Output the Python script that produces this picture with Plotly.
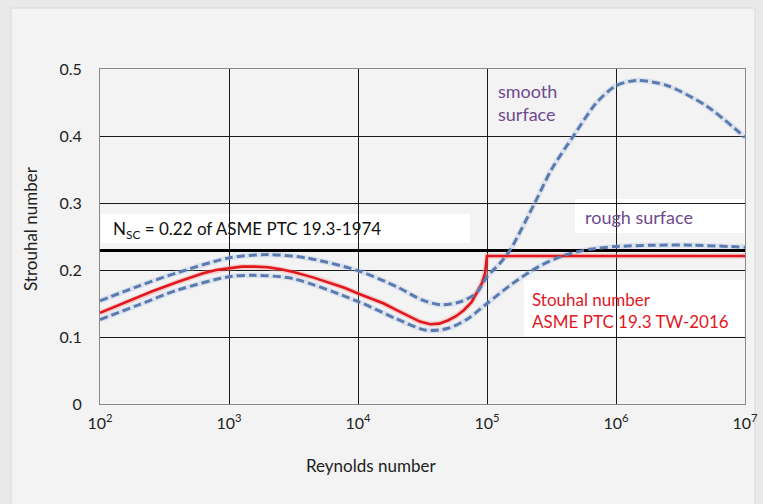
import plotly.graph_objects as go

# Reynolds number (log10) and Strouhal values
upper_logre = [2.0, 2.3, 2.6, 3.0, 3.3, 3.6, 4.0, 4.3, 4.5, 4.65, 4.8, 4.92, 5.0, 5.1, 5.18, 5.37, 5.5, 5.67, 5.85, 6.0, 6.16, 6.4, 6.7, 7.0]
upper_st = [0.154, 0.176, 0.196, 0.218, 0.223, 0.218, 0.199, 0.175, 0.155, 0.148, 0.153, 0.166, 0.19, 0.21, 0.23, 0.30, 0.35, 0.40, 0.45, 0.475, 0.483, 0.475, 0.445, 0.398]

lower_logre = [2.0, 2.3, 2.6, 3.0, 3.2, 3.5, 4.0, 4.3, 4.53, 4.7, 4.85, 5.0, 5.2, 5.4, 5.6, 5.8, 6.0, 6.3, 6.6, 7.0]
lower_st = [0.126, 0.148, 0.170, 0.190, 0.192, 0.187, 0.153, 0.127, 0.110, 0.113, 0.127, 0.150, 0.180, 0.205, 0.222, 0.231, 0.235, 0.237, 0.237, 0.234]

red_logre = [2.0, 2.2, 2.4, 2.6, 2.8, 2.9, 3.0, 3.1, 3.2, 3.3, 3.4, 3.5, 3.65, 3.8, 3.9, 4.0, 4.1, 4.2, 4.3, 4.4, 4.48, 4.56, 4.63, 4.7, 4.76, 4.82, 4.88, 4.92, 4.96, 4.985, 5.0, 7.0]
red_st = [0.136, 0.152, 0.168, 0.182, 0.195, 0.200, 0.203, 0.205, 0.205, 0.204, 0.201, 0.197, 0.189, 0.180, 0.173, 0.165, 0.158, 0.150, 0.140, 0.130, 0.123, 0.119, 0.120, 0.125, 0.131, 0.140, 0.152, 0.166, 0.180, 0.195, 0.221, 0.221]

nsc_logre = [2.0, 7.0]
nsc_st = [0.229, 0.229]

x_tickvals = [1e2, 1e3, 1e4, 1e5, 1e6, 1e7]
x_ticktext = ["10<sup>2</sup>", "10<sup>3</sup>", "10<sup>4</sup>", "10<sup>5</sup>", "10<sup>6</sup>", "10<sup>7</sup>"]
y_tickvals = [0, 0.1, 0.2, 0.3, 0.4, 0.5]
y_ticktext = ["0", "0.1", "0.2", "0.3", "0.4", "0.5"]

FONT = "Lato"
dash_col = "#5a7bb0"
halo_col = "rgba(160,185,220,0.28)"


def re(v):
    return [10 ** a for a in v]


fig = go.Figure()

for xs, ys in [(upper_logre, upper_st), (lower_logre, lower_st)]:
    fig.add_trace(go.Scatter(x=re(xs), y=ys, mode="lines",
                             line=dict(color=halo_col, width=5.5, shape="spline", smoothing=0.8),
                             hoverinfo="skip", showlegend=False))

fig.add_trace(go.Scatter(x=re(nsc_logre), y=nsc_st, mode="lines",
                         line=dict(color="#000000", width=3), showlegend=False))
fig.add_trace(go.Scatter(x=re(red_logre), y=red_st, mode="lines",
                         line=dict(color="rgba(240,150,150,0.4)", width=5.5),
                         hoverinfo="skip", showlegend=False))
fig.add_trace(go.Scatter(x=re(red_logre), y=red_st, mode="lines",
                         line=dict(color="#e2171e", width=2.6),
                         showlegend=False))
for xs, ys in [(upper_logre, upper_st), (lower_logre, lower_st)]:
    fig.add_trace(go.Scatter(x=re(xs), y=ys, mode="lines",
                             line=dict(color=dash_col, width=3, dash="8px,4px", shape="spline", smoothing=0.8),
                             showlegend=False))

# plot area: x 100..745 px, y 69..404 px


def xp(px):
    return (px - 100) / 645


def yp(py):
    return (404 - py) / 335


shapes = [
    # card background
    dict(type="rect", xref="paper", yref="paper", x0=xp(11), x1=xp(755), y0=yp(520), y1=yp(8),
         fillcolor="#f3f3f3", line=dict(color="#dadada", width=1), layer="below"),
    # white masks behind text boxes (hide gridlines)
    dict(type="rect", xref="paper", yref="paper", x0=xp(101), x1=xp(470), y0=yp(243), y1=yp(214),
         fillcolor="white", line=dict(width=0), layer="between"),
    dict(type="rect", xref="paper", yref="paper", x0=xp(575), x1=xp(744), y0=yp(233), y1=yp(199),
         fillcolor="white", line=dict(width=0), layer="between"),
    dict(type="rect", xref="paper", yref="paper", x0=xp(524), x1=xp(744), y0=yp(336), y1=yp(280),
         fillcolor="white", line=dict(width=0), layer="between"),
]

annotations = [
    dict(text="smooth<br>surface", x=xp(496), y=yp(102), xref="paper", yref="paper",
         xanchor="left", yanchor="middle", align="left", showarrow=False,
         font=dict(family=FONT, size=18, color="#6f4a8f")),
    dict(text="rough surface", x=xp(583), y=yp(217), xref="paper", yref="paper",
         xanchor="left", yanchor="middle", showarrow=False,
         font=dict(family=FONT, size=18, color="#6f4a8f")),
    dict(text="N<sub>SC</sub> = 0.22 of ASME PTC 19.3-1974", x=xp(111), y=yp(230), xref="paper", yref="paper",
         xanchor="left", yanchor="middle", showarrow=False,
         font=dict(family=FONT, size=17, color="#111111")),
    dict(text="Stouhal number<br>ASME PTC 19.3 TW-2016", x=xp(530), y=yp(310), xref="paper", yref="paper",
         xanchor="left", yanchor="middle", align="left", showarrow=False,
         font=dict(family=FONT, size=17, color="#e2171e")),
    dict(text="Reynolds number", x=xp(371), y=yp(466), xref="paper", yref="paper",
         xanchor="center", yanchor="middle", showarrow=False,
         font=dict(family=FONT, size=17, color="#222222")),
    dict(text="Strouhal number", x=xp(30), y=yp(229), xref="paper", yref="paper",
         xanchor="center", yanchor="middle", showarrow=False, textangle=-90,
         font=dict(family=FONT, size=17, color="#222222")),
]

fig.update_layout(
    width=763, height=504,
    margin=dict(l=100, r=18, t=69, b=100, autoexpand=False),
    paper_bgcolor="#e9e9e9",
    plot_bgcolor="white",
    shapes=shapes,
    annotations=annotations,
    font=dict(family=FONT, size=16, color="#222222"),
    xaxis=dict(type="log", range=[2, 7], tickvals=x_tickvals, ticktext=x_ticktext,
               showgrid=True, gridcolor="#1a1a1a", gridwidth=1, automargin=False,
               showline=True, linecolor="#8a8a8a", linewidth=1, mirror=True,
               ticks="outside", ticklen=5, tickcolor="rgba(0,0,0,0)",
               tickfont=dict(family=FONT, size=16, color="#222222"), zeroline=False),
    yaxis=dict(range=[0, 0.5], tickvals=y_tickvals, ticktext=y_ticktext,
               showgrid=True, gridcolor="#1a1a1a", gridwidth=1, automargin=False,
               showline=True, linecolor="#8a8a8a", linewidth=1, mirror=True,
               ticks="outside", ticklen=14, tickcolor="rgba(0,0,0,0)",
               tickfont=dict(family=FONT, size=16, color="#222222"), zeroline=False),
)

fig.write_html("out.html", config={"displayModeBar": False},
               post_script="document.body.style.margin='0';document.body.style.overflow='hidden';"
                           "document.body.style.background='#e9e9e9';")
